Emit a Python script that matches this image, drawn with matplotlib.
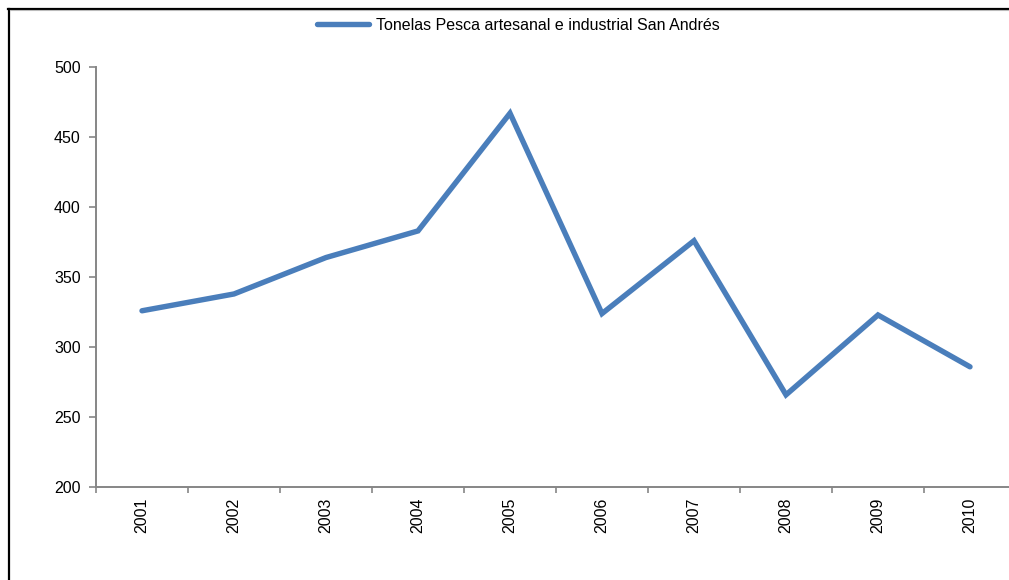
import matplotlib
matplotlib.use("Agg")
import matplotlib.pyplot as plt
from matplotlib.lines import Line2D
import numpy as np

plt.rcParams['font.family'] = ['Liberation Sans', 'DejaVu Sans']

years = ['2001', '2002', '2003', '2004', '2005', '2006', '2007', '2008', '2009', '2010']
toneladas = [326, 338, 364, 383, 467, 324, 376, 266, 323, 286]
series_label = 'Tonelas Pesca artesanal e industrial San Andrés'
y_ticks = [200, 250, 300, 350, 400, 450, 500]

W, H = 1009, 580
fig = plt.figure(figsize=(W / 100, H / 100), dpi=100)

left, right = 96, 1016
top, bottom = 67, 487.3
ax = fig.add_axes([left / W, (H - bottom) / H, (right - left) / W, (bottom - top) / H])

x = np.arange(len(years))
line, = ax.plot(x, toneladas, color='#4A7EBB', lw=3.9, solid_joinstyle='miter',
                solid_capstyle='round', label=series_label)

ax.set_xlim(-0.5, len(years) - 0.5)
ax.set_ylim(200, 500)
ax.set_yticks(y_ticks)
ax.set_yticklabels([str(v) for v in y_ticks], fontsize=11.5)

ax.set_xticks(np.arange(len(years) + 1) - 0.5)
ax.set_xticklabels([])
ax.set_xticks(x, minor=True)
ax.set_xticklabels(years, minor=True, rotation=90, fontsize=11.5)
ax.tick_params(axis='x', which='minor', length=0, pad=7.5)
ax.tick_params(axis='x', which='major', length=4, color='#868686', width=1.2)
ax.tick_params(axis='y', length=5, color='#868686', width=1.2, pad=6)

for s in ['top', 'right']:
    ax.spines[s].set_visible(False)
for s in ['left', 'bottom']:
    ax.spines[s].set_color('#868686')
    ax.spines[s].set_linewidth(1.4)

# legend
leg_handle = Line2D([], [], color='#4A7EBB', lw=3.9, solid_capstyle='round')
fig.legend([leg_handle], [series_label], loc='center', bbox_to_anchor=(518 / W, 1 - 25 / H),
           frameon=False, fontsize=11.5, handlelength=3.3, handletextpad=0.4)

# chart border (partially visible)
fig.add_artist(Line2D([8 / W, 1.0], [1 - 8.5 / H, 1 - 8.5 / H], color='black', lw=1.6,
                      transform=fig.transFigure))
fig.add_artist(Line2D([8.5 / W, 8.5 / W], [0, 1 - 8.5 / H], color='black', lw=1.6,
                      transform=fig.transFigure))
fig.add_artist(Line2D([10 / W, 1.0], [1 - 10 / H, 1 - 10 / H], color='#BBBBBB', lw=0.8,
                      transform=fig.transFigure))

fig.savefig('out.png', dpi=100)
